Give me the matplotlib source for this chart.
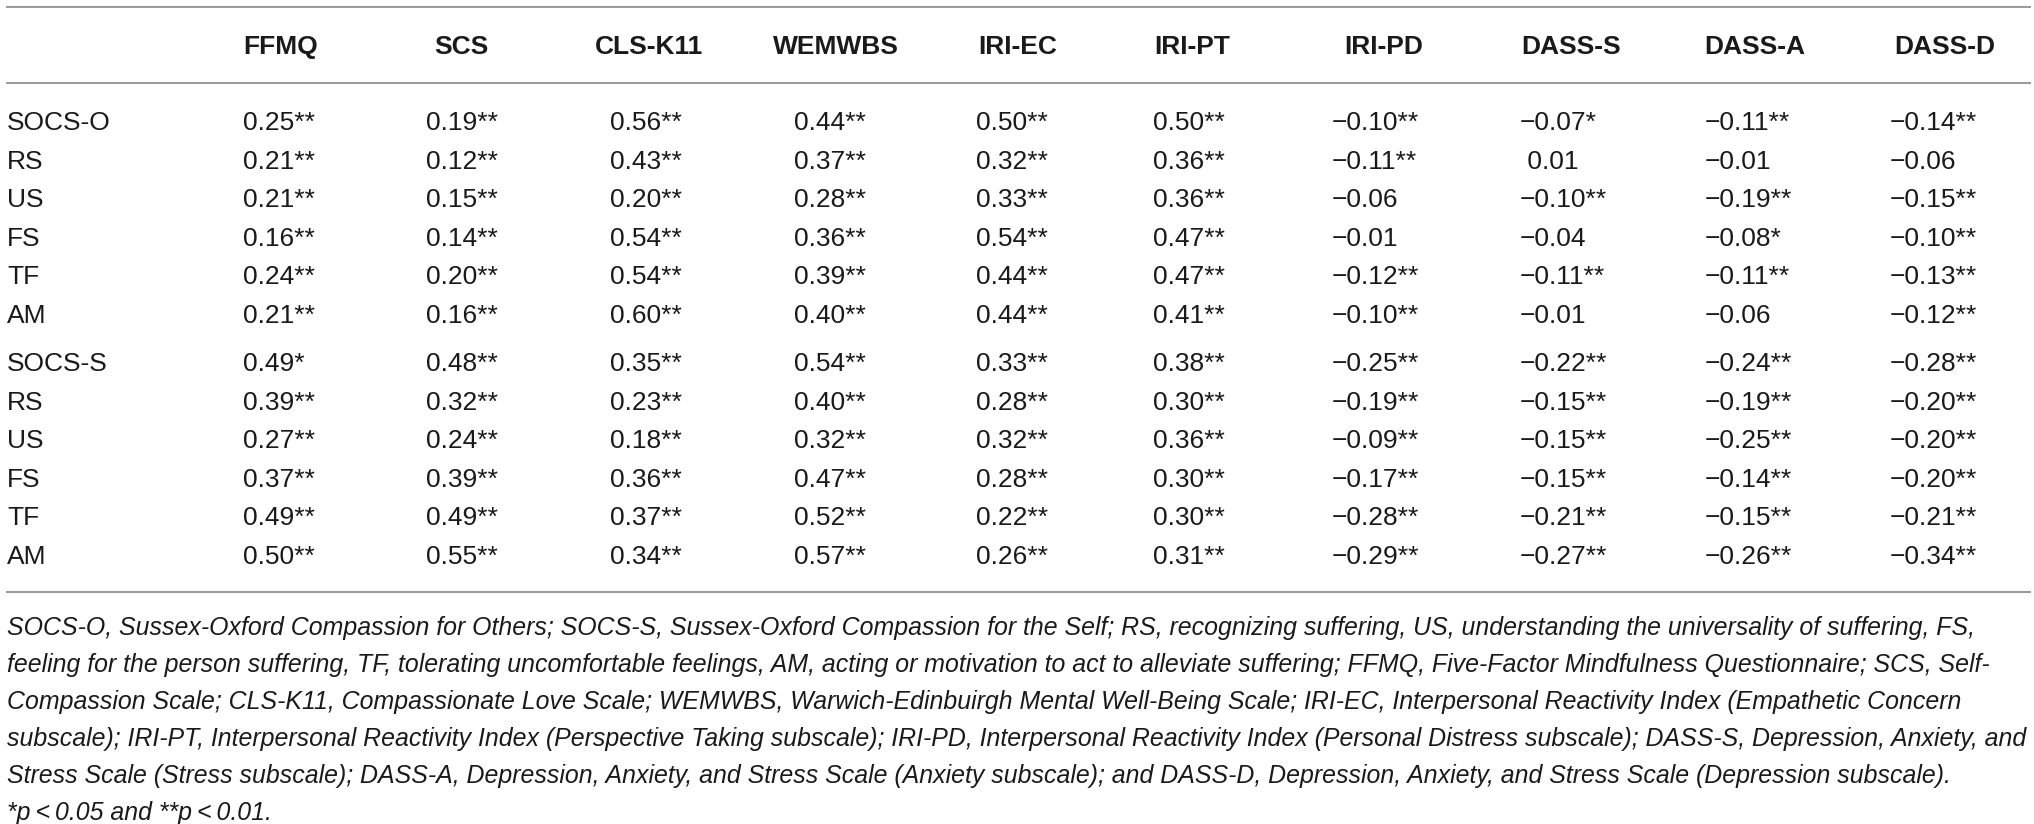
import matplotlib
matplotlib.use('Agg')
import matplotlib.pyplot as plt

# table data
columns = ['FFMQ', 'SCS', 'CLS-K11', 'WEMWBS', 'IRI-EC', 'IRI-PT', 'IRI-PD', 'DASS-S', 'DASS-A', 'DASS-D']

others_rows = ['SOCS-O', 'RS', 'US', 'FS', 'TF', 'AM']
others_r = [
    [0.25, 0.19, 0.56, 0.44, 0.50, 0.50, -0.10, -0.07, -0.11, -0.14],
    [0.21, 0.12, 0.43, 0.37, 0.32, 0.36, -0.11, 0.01, -0.01, -0.06],
    [0.21, 0.15, 0.20, 0.28, 0.33, 0.36, -0.06, -0.10, -0.19, -0.15],
    [0.16, 0.14, 0.54, 0.36, 0.54, 0.47, -0.01, -0.04, -0.08, -0.10],
    [0.24, 0.20, 0.54, 0.39, 0.44, 0.47, -0.12, -0.11, -0.11, -0.13],
    [0.21, 0.16, 0.60, 0.40, 0.44, 0.41, -0.10, -0.01, -0.06, -0.12],
]
others_sig = [
    [2, 2, 2, 2, 2, 2, 2, 1, 2, 2],
    [2, 2, 2, 2, 2, 2, 2, 0, 0, 0],
    [2, 2, 2, 2, 2, 2, 0, 2, 2, 2],
    [2, 2, 2, 2, 2, 2, 0, 0, 1, 2],
    [2, 2, 2, 2, 2, 2, 2, 2, 2, 2],
    [2, 2, 2, 2, 2, 2, 2, 0, 0, 2],
]

self_rows = ['SOCS-S', 'RS', 'US', 'FS', 'TF', 'AM']
self_r = [
    [0.49, 0.48, 0.35, 0.54, 0.33, 0.38, -0.25, -0.22, -0.24, -0.28],
    [0.39, 0.32, 0.23, 0.40, 0.28, 0.30, -0.19, -0.15, -0.19, -0.20],
    [0.27, 0.24, 0.18, 0.32, 0.32, 0.36, -0.09, -0.15, -0.25, -0.20],
    [0.37, 0.39, 0.36, 0.47, 0.28, 0.30, -0.17, -0.15, -0.14, -0.20],
    [0.49, 0.49, 0.37, 0.52, 0.22, 0.30, -0.28, -0.21, -0.15, -0.21],
    [0.50, 0.55, 0.34, 0.57, 0.26, 0.31, -0.29, -0.27, -0.26, -0.34],
]
self_sig = [
    [1, 2, 2, 2, 2, 2, 2, 2, 2, 2],
    [2, 2, 2, 2, 2, 2, 2, 2, 2, 2],
    [2, 2, 2, 2, 2, 2, 2, 2, 2, 2],
    [2, 2, 2, 2, 2, 2, 2, 2, 2, 2],
    [2, 2, 2, 2, 2, 2, 2, 2, 2, 2],
    [2, 2, 2, 2, 2, 2, 2, 2, 2, 2],
]

footnote = [
    'SOCS-O, Sussex-Oxford Compassion for Others; SOCS-S, Sussex-Oxford Compassion for the Self; RS, recognizing suffering, US, understanding the universality of suffering, FS,',
    'feeling for the person suffering, TF, tolerating uncomfortable feelings, AM, acting or motivation to act to alleviate suffering; FFMQ, Five-Factor Mindfulness Questionnaire; SCS, Self-',
    'Compassion Scale; CLS-K11, Compassionate Love Scale; WEMWBS, Warwich-Edinbuirgh Mental Well-Being Scale; IRI-EC, Interpersonal Reactivity Index (Empathetic Concern',
    'subscale); IRI-PT, Interpersonal Reactivity Index (Perspective Taking subscale); IRI-PD, Interpersonal Reactivity Index (Personal Distress subscale); DASS-S, Depression, Anxiety, and',
    'Stress Scale (Stress subscale); DASS-A, Depression, Anxiety, and Stress Scale (Anxiety subscale); and DASS-D, Depression, Anxiety, and Stress Scale (Depression subscale).',
    '*p\u2009<\u20090.05 and **p\u2009<\u20090.01.',
]

plt.rcParams['font.family'] = ['Liberation Sans', 'DejaVu Sans']

W, H = 2034, 824
fig = plt.figure(figsize=(W / 100, H / 100), dpi=100)
ax = fig.add_axes([0, 0, 1, 1])
ax.set_xlim(0, W)
ax.set_ylim(H, 0)
ax.axis('off')

txt = '#1a1a1a'
rule = '#9c9c9c'
body_fs = 19
head_fs = 19
note_fs = 17.9

col_left = [243, 426, 610, 794, 976, 1153, 1332, 1520, 1705, 1890]
col_head = [281, 461, 649, 836, 1018, 1192, 1384, 1571, 1755, 1945]
label_x = 7

def cap_half(fs):
    # half the cap height in pixels, to put caps centred on a row line
    return 0.716 * fs * 100 / 72 / 2

def fmt(v, s, pad):
    t = f'{abs(v):.2f}'
    if v < 0:
        t = '\u2212' + t
    elif pad:
        t = ' ' + t
    return t + '*' * s

# rules
for y in [7, 83, 592]:
    ax.plot([6, W - 3], [y, y], color=rule, lw=1.5, solid_capstyle='butt')

# header
for name, x in zip(columns, col_head):
    ax.text(x, 45 + cap_half(head_fs), name, ha='center', va='baseline',
            fontsize=head_fs, fontweight='bold', color=txt)

neg_cols = [any(r[j] < 0 for r in others_r + self_r) for j in range(len(columns))]

def draw_group(rows, vals, sig, y0):
    for i, lab in enumerate(rows):
        y = y0 + i * 38.5 + cap_half(body_fs)
        ax.text(label_x, y, lab, ha='left', va='baseline', fontsize=body_fs, color=txt)
        for j in range(len(columns)):
            ax.text(col_left[j], y, fmt(vals[i][j], sig[i][j], neg_cols[j]),
                    ha='left', va='baseline', fontsize=body_fs, color=txt)

draw_group(others_rows, others_r, others_sig, 121)
draw_group(self_rows, self_r, self_sig, 362)

for k, line in enumerate(footnote):
    ax.text(label_x, 626 + k * 37 + cap_half(note_fs), line, ha='left', va='baseline',
            fontsize=note_fs, fontstyle='italic', color=txt)

fig.savefig('out.png', dpi=100, facecolor='white')
